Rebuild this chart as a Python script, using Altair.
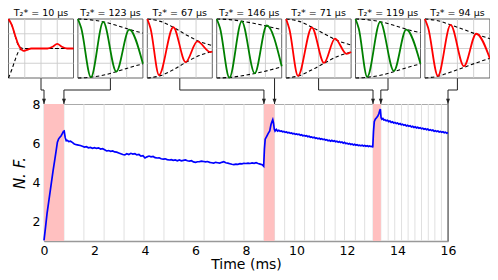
import altair as alt
import pandas as pd

# ---------------- data ----------------
# blue N.F. trace, split in three stretches: (time in ms, N.F.)
TRACE_A = [(0.00,1.03),(0.06,1.7),(0.12,2.4),(0.18,2.95),(0.24,3.5),(0.30,4.05),(0.36,4.6),(0.42,5.1),
 (0.48,5.6),(0.53,6.05),(0.58,6.22),(0.63,6.3),(0.68,6.38),(0.73,6.5),(0.77,6.6),(0.80,6.62),(0.84,6.28),
 (0.88,6.12),(0.93,6.14),(0.98,6.08),(1.05,6.1),(1.12,6.04),(1.2,5.96),(1.28,5.92),(1.36,5.9),(1.44,5.88),
 (1.52,5.84),(1.6,5.8),(1.68,5.82),(1.76,5.76),(1.84,5.78),(1.92,5.74),(2.0,5.77),(2.08,5.73),(2.16,5.76),
 (2.24,5.7),(2.32,5.72),(2.4,5.66),(2.48,5.6),(2.56,5.62),(2.64,5.58),(2.72,5.6),(2.8,5.55),(2.88,5.54),
 (2.96,5.5),(3.04,5.46),(3.12,5.42),(3.2,5.4),(3.28,5.46),(3.36,5.42),(3.44,5.48),(3.52,5.44),(3.6,5.46),
 (3.68,5.4),(3.76,5.42),(3.84,5.34),(3.92,5.36),(4.0,5.24),(4.08,5.3),(4.16,5.34),(4.24,5.3),(4.32,5.32),
 (4.4,5.26),(4.48,5.24),(4.56,5.25),(4.64,5.2),(4.72,5.18),(4.8,5.2),(4.88,5.16),(4.96,5.14),(5.04,5.16),
 (5.12,5.12),(5.2,5.14),(5.28,5.1),(5.36,5.14),(5.44,5.1),(5.52,5.12),(5.6,5.14),(5.68,5.1),(5.76,5.08),
 (5.84,5.1),(5.92,5.04),(6.0,5.02),(6.08,5.05),(6.16,5.06),(6.24,5.08),(6.32,5.06),(6.4,5.04),(6.48,5.06),
 (6.56,5.02),(6.64,5.0),(6.72,4.98),(6.8,5.02),(6.88,5.0),(6.96,4.98),(7.04,5.02),(7.12,5.05),(7.2,5.0),
 (7.28,4.98),(7.36,4.95),(7.44,4.92),(7.52,4.9),(7.6,4.93),(7.68,4.92),(7.76,4.95),(7.84,4.94),(7.92,4.97),
 (8.0,4.96),(8.08,4.98),(8.16,4.96),(8.24,4.99),(8.32,4.97),(8.4,5.0),(8.48,4.96),(8.56,4.93),(8.64,4.9),
 (8.7,4.82)]
TRACE_B = [(8.73,5.7),(8.76,6.2),(8.82,6.35),(8.88,6.5),(8.94,6.62),(8.99,6.95),(9.03,7.1),(9.06,7.2),
 (9.09,7.02),(9.12,6.72),(9.15,6.62),(9.2,6.7),(9.25,6.62),(9.3,6.66),(9.35,6.6),(9.4,6.62),(9.45,6.58),
 (9.5,6.6),(9.55,6.55),(9.6,6.57),(9.65,6.53),(9.7,6.55),(9.75,6.5),(9.8,6.52),(9.85,6.48),(9.9,6.5),
 (9.95,6.45),(10.0,6.47),(10.05,6.44),(10.1,6.46),(10.15,6.4),(10.2,6.43),(10.25,6.38),(10.3,6.4),
 (10.35,6.36),(10.4,6.38),(10.45,6.33),(10.5,6.35),(10.55,6.3),(10.6,6.32),(10.65,6.27),(10.7,6.3),
 (10.75,6.25),(10.8,6.27),(10.85,6.22),(10.9,6.25),(10.95,6.2),(11.0,6.23),(11.05,6.18),(11.1,6.2),
 (11.15,6.16),(11.2,6.18),(11.25,6.12),(11.3,6.15),(11.35,6.1),(11.4,6.14),(11.45,6.09),(11.5,6.12),
 (11.55,6.07),(11.6,6.1),(11.65,6.05),(11.7,6.08),(11.75,6.03),(11.8,6.06),(11.85,6.0),(11.9,6.04),
 (11.95,5.98),(12.0,6.0),(12.05,5.95),(12.1,5.98),(12.15,5.93),(12.2,5.96),(12.25,5.91),(12.3,5.94),
 (12.35,5.89),(12.4,5.92),(12.45,5.88),(12.5,5.9),(12.55,5.86),(12.6,5.89),(12.65,5.85),(12.7,5.88),
 (12.75,5.84),(12.8,5.87),(12.85,5.83),(12.9,5.86),(12.95,5.82),(13.0,5.84),(13.02,5.78)]
TRACE_C = [(13.05,6.6),(13.08,7.1),(13.12,7.22),(13.17,7.3),(13.22,7.38),(13.26,7.5),(13.3,7.68),
 (13.32,7.74),(13.35,7.3),(13.38,7.22),(13.42,7.26),(13.46,7.18),(13.5,7.2),(13.55,7.14),(13.6,7.17),
 (13.65,7.1),(13.7,7.13),(13.75,7.06),(13.8,7.09),(13.85,7.03),(13.9,7.06),(13.95,7.0),(14.0,7.03),
 (14.05,6.97),(14.1,7.0),(14.15,6.94),(14.2,6.97),(14.25,6.91),(14.3,6.94),(14.35,6.88),(14.4,6.91),
 (14.45,6.86),(14.5,6.89),(14.55,6.83),(14.6,6.86),(14.65,6.8),(14.7,6.84),(14.75,6.78),(14.8,6.81),
 (14.85,6.76),(14.9,6.79),(14.95,6.73),(15.0,6.76),(15.05,6.71),(15.1,6.74),(15.15,6.69),(15.2,6.72),
 (15.25,6.66),(15.3,6.69),(15.35,6.64),(15.4,6.67),(15.45,6.61),(15.5,6.64),(15.55,6.59),(15.6,6.62),
 (15.65,6.57),(15.7,6.6),(15.75,6.55),(15.8,6.58),(15.85,6.53),(15.9,6.56),(15.95,6.51),(16.0,6.54)]

PULSE_START_MS = [0.0, 8.71, 13.03]
PULSE_END_MS = [0.79, 9.13, 13.34]

SAMPLE_T_MS = [0.0, 0.79, 1.58, 2.38, 3.17, 3.96, 4.75, 5.54, 6.34, 7.13, 7.92, 8.71, 9.13, 9.53,
               9.93, 10.32, 10.72, 11.11, 11.53, 11.9, 12.33, 12.7, 13.03, 13.34, 13.63, 13.89,
               14.16, 14.42, 14.69, 14.95, 15.22, 15.48, 15.74, 16.0]

ARROW_T_MS = [0.0, 0.79, 8.71, 9.13, 13.03, 13.34, 16.0]

T2_US = [10, 123, 67, 146, 71, 119, 94]
TRACE_COLOR = ["#ff0000", "#008000", "#ff0000", "#008000", "#ff0000", "#008000", "#ff0000"]

# Ramsey fringes: normalised time u, normalised signal v
FRINGE_U = [
    [0, 0.05, 0.1, 0.15, 0.2, 0.23, 0.28, 0.35, 0.6, 0.68, 0.75, 0.82, 0.9, 1.0],
    [0, 0.05, 0.2, 0.39, 0.59, 0.79, 1.0],
    [0, 0.05, 0.18, 0.4, 0.59, 0.77, 0.97, 1.0],
    [0, 0.05, 0.195, 0.385, 0.585, 0.77, 1.0],
    [0, 0.05, 0.183, 0.396, 0.584, 0.752, 0.93, 1.0],
    [0, 0.05, 0.18, 0.38, 0.59, 0.78, 1.0],
    [0, 0.05, 0.2, 0.395, 0.6, 0.79, 1.0],
]
FRINGE_V = [
    [1.0, 0.9, 0.73, 0.57, 0.48, 0.46, 0.475, 0.5, 0.5, 0.53, 0.58, 0.53, 0.5, 0.5],
    [1.0, 0.85, 0.015, 0.95, 0.11, 0.82, 0.24],
    [1.0, 0.84, 0.05, 0.86, 0.27, 0.62, 0.44, 0.45],
    [1.0, 0.85, 0.005, 0.96, 0.08, 0.89, 0.2],
    [1.0, 0.83, 0.036, 0.856, 0.256, 0.667, 0.41, 0.44],
    [1.0, 0.84, 0.02, 0.95, 0.12, 0.82, 0.24],
    [1.0, 0.85, 0.035, 0.9, 0.2, 0.75, 0.33],
]
ENV_U = [
    [0, 0.05, 0.1, 0.15, 0.2, 0.27, 1.0],
    [0, 0.2, 0.4, 0.6, 0.8, 1.0],
    [0, 0.2, 0.4, 0.6, 0.8, 1.0],
    [0, 0.2, 0.4, 0.6, 0.8, 1.0],
    [0, 0.2, 0.4, 0.6, 0.8, 1.0],
    [0, 0.2, 0.4, 0.6, 0.8, 1.0],
    [0, 0.2, 0.4, 0.6, 0.8, 1.0],
]
ENV_UPPER = [
    [1.0, 0.9, 0.72, 0.56, 0.51, 0.5, 0.5],
    [1.0, 0.985, 0.95, 0.89, 0.82, 0.76],
    [1.0, 0.96, 0.86, 0.73, 0.62, 0.55],
    [1.0, 0.99, 0.96, 0.92, 0.87, 0.82],
    [1.0, 0.96, 0.86, 0.74, 0.63, 0.56],
    [1.0, 0.985, 0.95, 0.89, 0.82, 0.77],
    [1.0, 0.97, 0.9, 0.82, 0.74, 0.665],
]
ENV_LOWER = [
    [0.0, 0.14, 0.3, 0.44, 0.49, 0.5, 0.5],
    [0.0, 0.015, 0.05, 0.11, 0.18, 0.24],
    [0.0, 0.04, 0.14, 0.27, 0.38, 0.45],
    [0.0, 0.01, 0.04, 0.08, 0.13, 0.19],
    [0.0, 0.04, 0.14, 0.26, 0.37, 0.44],
    [0.0, 0.015, 0.05, 0.11, 0.18, 0.24],
    [0.0, 0.03, 0.1, 0.18, 0.26, 0.335],
]

# ---------------- layout (pixels) ----------------
PLOT_W, PLOT_H = 404, 137
X_DOM, Y_DOM = [0, 16], [1, 8]
MS_PER_PX = (X_DOM[1] - X_DOM[0]) / PLOT_W
NF_PER_PX = (Y_DOM[1] - Y_DOM[0]) / PLOT_H
INSET_LEFT_PX, INSET_STEP_PX, INSET_W_PX = -35.5, 69.4, 65
INSET_BOTTOM_PX, INSET_H_PX = 26, 59          # above the plot's top edge
ELBOW_PX = 14
ANCHOR_U = [0.5, 0.5, 0.5, 0.89, 0.5, 0.5, 0.5]
GRID_FRAC = [0.25, 0.5, 0.75]

I_T0 = X_DOM[0] + INSET_LEFT_PX * MS_PER_PX
I_STEP = INSET_STEP_PX * MS_PER_PX
I_W = INSET_W_PX * MS_PER_PX
I_Y0 = Y_DOM[1] + INSET_BOTTOM_PX * NF_PER_PX
I_H = INSET_H_PX * NF_PER_PX
ELBOW_Y = Y_DOM[1] + ELBOW_PX * NF_PER_PX
TITLE_Y = I_Y0 + I_H + 3 * NF_PER_PX

FONT = "DejaVu Sans"

# ---------------- tables ----------------
trace = TRACE_A + TRACE_B + TRACE_C
trace_df = pd.DataFrame({"t": [p[0] for p in trace], "nf": [p[1] for p in trace]})
pulse_df = pd.DataFrame({"t0": PULSE_START_MS, "t1": PULSE_END_MS})
grid_df = pd.DataFrame({"t": SAMPLE_T_MS})
arrow_df = pd.DataFrame({"t": ARROW_T_MS, "y": [Y_DOM[1]] * len(ARROW_T_MS)})

seg = []
for k, tgt in enumerate(ARROW_T_MS):
    ta = I_T0 + k * I_STEP + ANCHOR_U[k] * I_W
    seg.append((ta, I_Y0, ta, ELBOW_Y))
    seg.append((ta, ELBOW_Y, tgt, ELBOW_Y))
    seg.append((tgt, ELBOW_Y, tgt, Y_DOM[1]))
conn_df = pd.DataFrame(seg, columns=["xa", "ya", "xb", "yb"])

panel_df = pd.DataFrame({"panel": list(range(len(T2_US))),
                         "label": [f"T\u2082* = {v} \u03bcs" for v in T2_US]})
pgrid_df = pd.DataFrame([(k, g) for k in range(len(T2_US)) for g in GRID_FRAC],
                        columns=["panel", "g"])

sig_rows, env_rows = [], []
for k in range(len(T2_US)):
    for u, v in zip(FRINGE_U[k], FRINGE_V[k]):
        sig_rows.append((k, u, v, TRACE_COLOR[k]))
    for u, a, b in zip(ENV_U[k], ENV_UPPER[k], ENV_LOWER[k]):
        env_rows.append((k, f"{k}-up", u, a))
        env_rows.append((k, f"{k}-lo", u, b))
sig_df = pd.DataFrame(sig_rows, columns=["panel", "u", "v", "color"])
env_df = pd.DataFrame(env_rows, columns=["panel", "key", "u", "v"])

# ---------------- encodings ----------------
x_axis = alt.Axis(values=[0, 2, 4, 6, 8, 10, 12, 14, 16], labelFlush=False, ticks=False,
                  labelPadding=3, grid=False, domainColor="#999999", domainWidth=1.6,
                  labelFontSize=12.5, titleFontSize=14, titlePadding=1, labelColor="black",
                  titleColor="black", titleFontWeight="normal", labelFont=FONT, titleFont=FONT)
y_axis = alt.Axis(values=[2, 4, 6, 8], labelFlush=False, ticks=False, labelPadding=4, grid=False,
                  domainColor="#999999", domainWidth=1.2, labelFontSize=12.5, titleFontSize=15,
                  titleFontStyle="italic", titleFontWeight="normal", titlePadding=5,
                  labelColor="black", titleColor="black", labelFont=FONT, titleFont=FONT)
xs = alt.Scale(domain=X_DOM, nice=False, zero=False)
ys = alt.Scale(domain=Y_DOM, nice=False, zero=False)


def X(f):
    return alt.X(f, type="quantitative", scale=xs, axis=x_axis, title="Time (ms)")


def Y(f):
    return alt.Y(f, type="quantitative", scale=ys, axis=y_axis, title="N. F.")


px = f"{I_T0} + datum.panel * {I_STEP}"

grid = alt.Chart(grid_df).mark_rule(color="#e0e0e0", strokeWidth=1).encode(x=X("t"))
pulses = alt.Chart(pulse_df).mark_rect(color="#ffc0c0").encode(x=X("t0"), x2="t1")
right = alt.Chart(pd.DataFrame({"t": [X_DOM[1]]})).mark_rule(color="#444444", strokeWidth=1).encode(x=X("t"))
line = alt.Chart(trace_df).mark_line(color="#0000ff", strokeWidth=1.7).encode(x=X("t"), y=Y("nf"))
conns = alt.Chart(conn_df).mark_rule(color="#222222", strokeWidth=1).encode(
    x=X("xa"), y=Y("ya"), x2="xb", y2="yb")
arrows = alt.Chart(arrow_df).mark_point(
    shape="M-1,-2.6L1,-2.6L0,0Z", size=16, filled=True, color="#222222", opacity=1, strokeWidth=0
).encode(x=X("t"), y=Y("y"))

frames = alt.Chart(panel_df).transform_calculate(
    x0=px, x1=f"{px} + {I_W}", y0=f"{I_Y0}", y1=f"{I_Y0 + I_H}"
).mark_rect(fill="white", stroke="#666666", strokeWidth=1).encode(
    x=X("x0:Q"), x2="x1:Q", y=Y("y0:Q"), y2="y1:Q")
pgrid_v = alt.Chart(pgrid_df).transform_calculate(
    gx=f"{px} + datum.g * {I_W}", y0=f"{I_Y0}", y1=f"{I_Y0 + I_H}"
).mark_rule(color="#cccccc", strokeWidth=0.9).encode(x=X("gx:Q"), y=Y("y0:Q"), y2="y1:Q")
pgrid_h = alt.Chart(pgrid_df).transform_calculate(
    x0=px, x1=f"{px} + {I_W}", gy=f"{I_Y0} + datum.g * {I_H}"
).mark_rule(color="#cccccc", strokeWidth=0.9).encode(x=X("x0:Q"), x2="x1:Q", y=Y("gy:Q"))
envs = alt.Chart(env_df).transform_calculate(
    ex=f"{px} + datum.u * {I_W}", ey=f"{I_Y0} + datum.v * {I_H}"
).mark_line(color="black", strokeWidth=1.1, strokeDash=[3.5, 2.5], interpolate="monotone").encode(
    x=X("ex:Q"), y=Y("ey:Q"), detail="key:N")
sigs = alt.Chart(sig_df).transform_calculate(
    sx=f"{px} + datum.u * {I_W}", sy=f"{I_Y0} + datum.v * {I_H}"
).mark_line(strokeWidth=1.8, interpolate="monotone").encode(
    x=X("sx:Q"), y=Y("sy:Q"), color=alt.Color("color:N", scale=None), detail="panel:N")
titles = alt.Chart(panel_df).transform_calculate(
    tx=f"{px} + {I_W / 2}", ty=f"{TITLE_Y}"
).mark_text(font=FONT, fontSize=9.5, baseline="alphabetic", align="center", color="black").encode(
    x=X("tx:Q"), y=Y("ty:Q"), text="label:N")

chart = alt.layer(
    grid, pulses, right, line, conns, arrows,
    frames, pgrid_v, pgrid_h, envs, sigs, titles
).properties(
    width=PLOT_W, height=PLOT_H,
    autosize=alt.AutoSizeParams(type="none"),
    padding={"left": 36, "top": 96, "right": 42, "bottom": 31},
).configure_view(stroke="#aaaaaa", strokeWidth=1)

chart.save("out.html", embed_options={"renderer": "svg", "actions": False})
